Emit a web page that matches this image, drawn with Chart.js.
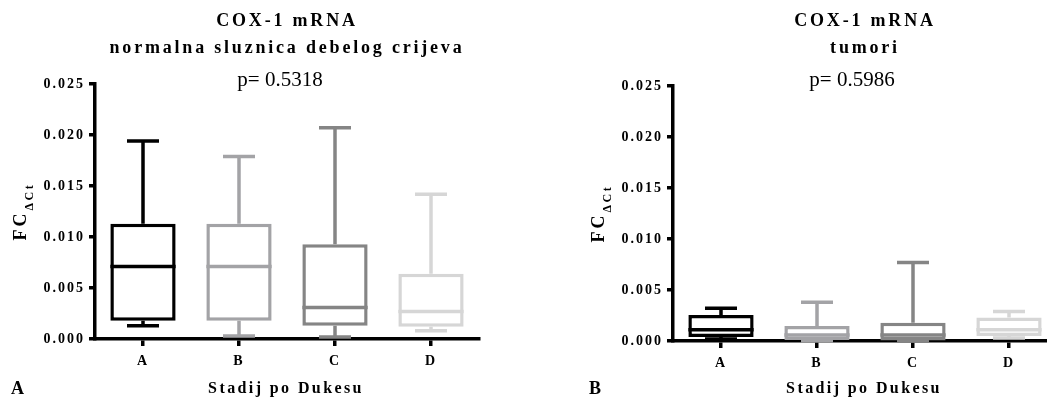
<!DOCTYPE html>
<html>
<head>
<meta charset="utf-8">
<script src="https://cdn.jsdelivr.net/npm/chart.js@4.4.1/dist/chart.umd.min.js"></script>
<style>
html, body { margin: 0; padding: 0; background: #fff; overflow: hidden; width: 1047px; height: 401px; }
canvas { position: absolute; top: 0; }
#chartA { left: 0; }
#chartB { left: 578px; }
</style>
</head>
<body>
<canvas id="chartA" width="520" height="401"></canvas>
<canvas id="chartB" width="520" height="401"></canvas>
<script>
// stages and y tick labels
const categories = ['A', 'B', 'C', 'D'];
const yTicks = [0, 0.005, 0.010, 0.015, 0.020, 0.025];
const colors = ['#000000', '#a3a3a6', '#858585', '#d6d6d6'];

// normalna sluznica (box plot: min, q1, median, q3, max)
const normalMin    = [0.0013, 0.0003, 0.0002, 0.0008];
const normalQ1     = [0.0018, 0.0018, 0.0013, 0.0012];
const normalMedian = [0.0071, 0.0071, 0.0031, 0.0027];
const normalQ3     = [0.0113, 0.0113, 0.0093, 0.0064];
const normalMax    = [0.0194, 0.0179, 0.0207, 0.0142];

// tumori
const tumorMin    = [0.0002, 0.00003, 0.0000, 0.0003];
const tumorQ1     = [0.0004, 0.0001, 0.00005, 0.0005];
const tumorMedian = [0.0011, 0.0006, 0.0006, 0.0011];
const tumorQ3     = [0.00255, 0.00147, 0.0018, 0.0023];
const tumorMax    = [0.0032, 0.0038, 0.0077, 0.0029];

const SERIF = '"Liberation Serif", "Times New Roman", serif';
const LW = 3.5;

// whiskers, medians and the text around each panel
const boxPlot = {
  id: 'boxPlot',
  beforeDraw(chart) {
    chart.ctx.letterSpacing = '2px';
  },
  afterDatasetsDraw(chart) {
    const ctx = chart.ctx, xs = chart.scales.x, ys = chart.scales.y;
    const ds = chart.data.datasets[0];
    const meta = chart.getDatasetMeta(0);
    ctx.save();
    ctx.lineWidth = LW;
    ds.stats.median.forEach((m, i) => {
      const cx = xs.getPixelForValue(i);
      const w = meta.data[i].width;
      const yMax = ys.getPixelForValue(ds.stats.max[i]);
      const yMin = ys.getPixelForValue(ds.stats.min[i]);
      ctx.strokeStyle = colors[i];
      ctx.beginPath();
      ctx.moveTo(cx, ys.getPixelForValue(ds.data[i][1]));
      ctx.lineTo(cx, yMax);
      ctx.moveTo(cx, ys.getPixelForValue(ds.data[i][0]));
      ctx.lineTo(cx, yMin);
      ctx.moveTo(cx - 16, yMax); ctx.lineTo(cx + 16, yMax);
      ctx.moveTo(cx - 16, yMin); ctx.lineTo(cx + 16, yMin);
      const ym = ys.getPixelForValue(m);
      ctx.moveTo(cx - w / 2, ym); ctx.lineTo(cx + w / 2, ym);
      ctx.stroke();
    });
    ctx.restore();
  },
  afterDraw(chart, args, opts) {
    const ctx = chart.ctx, area = chart.chartArea;
    const cx = (area.left + area.right) / 2;
    ctx.save();
    ctx.fillStyle = '#000';
    ctx.textAlign = 'center';
    ctx.textBaseline = 'middle';
    ctx.font = 'bold 18px ' + SERIF;
    ctx.letterSpacing = '2.8px';
    ctx.fillText('COX-1 mRNA', cx, 21);
    ctx.fillText(opts.subtitle, cx, 48);
    ctx.letterSpacing = '0px';
    ctx.font = '21px ' + SERIF;
    ctx.fillText(opts.pText, opts.pX, 80);
    ctx.font = 'bold 16px ' + SERIF;
    ctx.letterSpacing = '2.4px';
    ctx.fillText('Stadij po Dukesu', cx - 1, 389);
    ctx.letterSpacing = '0px';
    ctx.textAlign = 'left';
    ctx.font = 'bold 18px ' + SERIF;
    ctx.fillText(opts.letter, 11, 389);
    // y title FC with subscript ΔCt
    ctx.translate(26, (area.top + area.bottom) / 2 + 29);
    ctx.rotate(-Math.PI / 2);
    ctx.textBaseline = 'alphabetic';
    ctx.letterSpacing = '3px';
    ctx.fillText('FC', 0, 0);
    const w = ctx.measureText('FC').width;
    ctx.font = 'bold 12px ' + SERIF;
    ctx.letterSpacing = '2.5px';
    ctx.fillText('ΔCt', w, 7);
    ctx.restore();
  }
};

function makePanel(id, q1, median, q3, min, max, text, top) {
  new Chart(document.getElementById(id), {
    type: 'bar',
    data: {
      labels: categories,
      datasets: [{
        data: q1.map((v, i) => [v, q3[i]]),
        stats: { min: min, median: median, max: max },
        backgroundColor: '#ffffff',
        borderColor: colors,
        borderWidth: LW,
        borderSkipped: false,
        barPercentage: 0.68,
        categoryPercentage: 1,
        clip: false
      }]
    },
    options: {
      responsive: false,
      animation: false,
      layout: { padding: { left: 0, right: 41, top: top, bottom: 401 - top - 255 - 40 } },
      plugins: {
        legend: { display: false },
        tooltip: { enabled: false },
        boxPlot: text
      },
      scales: {
        x: {
          offset: true,
          grid: { offset: false, drawOnChartArea: false, tickLength: 7, color: '#000', lineWidth: LW },
          border: { color: '#000', width: LW },
          ticks: { color: '#000', padding: 7, maxRotation: 0, font: { family: SERIF, size: 14, weight: 'bold' } },
          afterFit(s) { s.height = 40; }
        },
        y: {
          min: 0,
          max: 0.025,
          afterBuildTicks(s) { s.ticks = yTicks.map(v => ({ value: v })); },
          grid: { drawOnChartArea: false, tickLength: 6, color: '#000', lineWidth: LW },
          border: { color: '#000', width: LW },
          ticks: {
            color: '#000', padding: 4,
            font: { family: SERIF, size: 14, weight: 'bold' },
            callback: v => v.toFixed(3)
          },
          afterFit(s) { s.width = 95; }
        }
      }
    },
    plugins: [boxPlot]
  });
}

makePanel('chartA', normalQ1, normalMedian, normalQ3, normalMin, normalMax,
  { subtitle: 'normalna sluznica debelog crijeva', pText: 'p= 0.5318', pX: 280, letter: 'A' }, 84);
makePanel('chartB', tumorQ1, tumorMedian, tumorQ3, tumorMin, tumorMax,
  { subtitle: 'tumori', pText: 'p= 0.5986', pX: 274, letter: 'B' }, 86);
</script>
</body>
</html>
